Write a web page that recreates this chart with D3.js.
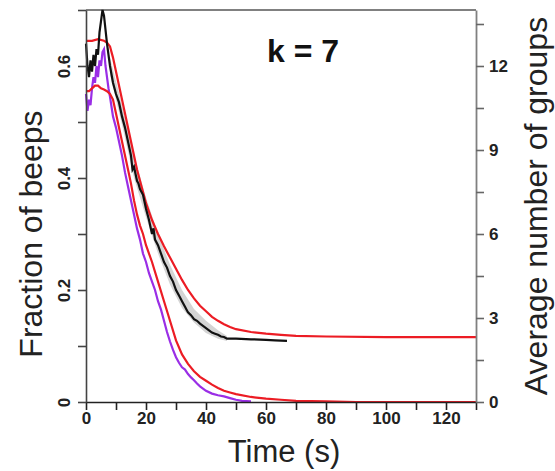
<!DOCTYPE html>
<html><head><meta charset="utf-8">
<script src="https://cdn.jsdelivr.net/npm/d3@7"></script>
<style>body{margin:0;background:#fff;} text{font-family:"Liberation Sans",Arial,Helvetica,sans-serif;}</style>
</head><body>
<svg id="c" width="555" height="471"></svg>
<script>
// ---- data ----
const xTicks = [0,10,20,30,40,50,60,70,80,90,100,110,120,130];
const xLabels = [0,20,40,60,80,100,120];
const yLeftTicks = [0,0.1,0.2,0.3,0.4,0.5,0.6,0.7];
const yLeftLabels = [0,0.2,0.4,0.6];
const yRightTicks = [0,1.5,3,4.5,6,7.5,9,10.5,12,13.5];
const yRightLabels = [0,3,6,9,12];
const title = "k = 7";

const blackT = [0,0.5,1,1.5,2,2.5,3,3.5,4,4.5,5,5.5,6,6.5,7,7.5,8,9,10,11,12,13,14,15,15.5,16,17,17.5,18,19,20,21,22,22.5,23,24,25,26,27,28,29,30,31,32,33,34,35,36,37,38,39,40,41,42,43,44,45,46,47,50,55,60,63,67];
const blackV = [0.64,0.6,0.58,0.61,0.59,0.62,0.6,0.63,0.62,0.66,0.68,0.7,0.69,0.665,0.64,0.62,0.6,0.57,0.55,0.535,0.51,0.49,0.465,0.44,0.415,0.42,0.395,0.39,0.38,0.37,0.345,0.325,0.3,0.31,0.29,0.28,0.265,0.25,0.24,0.225,0.215,0.2,0.19,0.18,0.17,0.16,0.155,0.148,0.145,0.14,0.136,0.132,0.128,0.124,0.122,0.12,0.117,0.116,0.113,0.113,0.112,0.111,0.11,0.109];

const bandT  = [8,12,16,20,24,28,32,36,40,44,47];
const bandHi = [0.615,0.53,0.44,0.365,0.3,0.245,0.2,0.166,0.145,0.128,0.118];
const bandLo = [0.585,0.495,0.4,0.33,0.265,0.21,0.168,0.142,0.123,0.113,0.109];

const purpleT = [0,0.5,1,1.5,2,2.5,3,3.5,4,4.5,5,5.5,6,6.5,7,7.5,8,9,10,11,12,13,14,15,16,17,18,19,20,21,22,23,24,25,26,27,28,29,30,31,32,33,34,35,36,37,38,39,40,42,44,46,48,50,52,55];
const purpleV = [0.55,0.52,0.54,0.53,0.56,0.58,0.57,0.6,0.58,0.61,0.6,0.625,0.63,0.6,0.58,0.56,0.545,0.51,0.49,0.465,0.44,0.41,0.385,0.36,0.335,0.31,0.29,0.265,0.25,0.23,0.215,0.2,0.18,0.165,0.145,0.125,0.108,0.093,0.08,0.07,0.062,0.058,0.05,0.044,0.039,0.033,0.028,0.024,0.02,0.015,0.012,0.01,0.007,0.004,0.002,0.001];

const redUpT = [0,2,4,6,7,8,9,10,11,12,13,14,15,16,17,18,19,20,22,24,26,28,30,32,34,36,38,40,42,44,46,48,50,55,60,65,70,80,100,130];
const redUpV = [0.645,0.645,0.648,0.645,0.642,0.635,0.615,0.59,0.565,0.54,0.515,0.49,0.465,0.44,0.415,0.395,0.375,0.355,0.325,0.3,0.278,0.258,0.238,0.218,0.2,0.185,0.172,0.162,0.152,0.145,0.139,0.134,0.13,0.125,0.122,0.12,0.118,0.117,0.116,0.116];

const redLoT = [0,1,2,3,4,5,6,7,8,9,10,11,12,13,14,15,16,17,18,19,20,22,24,26,28,30,32,34,36,38,40,42,44,46,48,50,55,60,65,70,80,90,130];
const redLoV = [0.555,0.555,0.56,0.565,0.565,0.56,0.558,0.555,0.55,0.54,0.515,0.49,0.465,0.44,0.415,0.39,0.36,0.335,0.315,0.3,0.28,0.25,0.215,0.18,0.145,0.11,0.085,0.068,0.055,0.045,0.038,0.031,0.025,0.02,0.017,0.014,0.009,0.006,0.004,0.002,0.001,0,0];

// ---- chart ----
const svg = d3.select("#c");
const L=86, R=476, T=10, B=402;
const x = d3.scaleLinear().domain([0,130]).range([L,R]);
const y = d3.scaleLinear().domain([0,0.7]).range([B,T]);
const y2 = d3.scaleLinear().domain([0,14]).range([B,T]);

const zip = (ts,vs)=>ts.map((t,i)=>[t,vs[i]]);
const line = d3.line().x(d=>x(d[0])).y(d=>y(d[1]));

// band
const band = d3.area().x(d=>x(d[0])).y0(d=>y(d[1])).y1(d=>y(d[2]));
svg.append("path").datum(bandT.map((t,i)=>[t,bandLo[i],bandHi[i]]))
  .attr("d",band).attr("fill","#d4d4d4");

// frame top
svg.append("line").attr("x1",L).attr("x2",R).attr("y1",T).attr("y2",T).attr("stroke","#808080").attr("stroke-width",2);

// curves
svg.append("path").datum(zip(redUpT,redUpV)).attr("d",line).attr("fill","none").attr("stroke","#ec1c24").attr("stroke-width",2.2);
svg.append("path").datum(zip(purpleT,purpleV)).attr("d",line).attr("fill","none").attr("stroke","#9a2ee6").attr("stroke-width",2.2);
svg.append("path").datum(zip(redLoT,redLoV)).attr("d",line).attr("fill","none").attr("stroke","#ec1c24").attr("stroke-width",2.2);
svg.append("path").datum(zip(blackT,blackV)).attr("d",line).attr("fill","none").attr("stroke","#111").attr("stroke-width",2.2);

// axes
const fontTick = '"Liberation Sans",Arial,sans-serif';
const gx = svg.append("g").attr("transform",`translate(0,${B})`)
  .call(d3.axisBottom(x).tickValues(xTicks).tickSize(8).tickSizeOuter(0)
    .tickFormat(d=>xLabels.includes(d)?String(d):""));
gx.select(".domain").attr("stroke","#222").attr("stroke-width",1.6);
gx.selectAll(".tick line").attr("stroke","#222").attr("stroke-width",1.6);
gx.selectAll("text").attr("font-size",17).attr("font-weight","bold").attr("fill","#222").attr("y",10).attr("dy","0.71em").attr("font-family",fontTick);

const gl = svg.append("g").attr("transform",`translate(${L},0)`)
  .call(d3.axisLeft(y).tickValues(yLeftTicks).tickSize(8).tickSizeOuter(0)
    .tickFormat(d=>yLeftLabels.some(v=>Math.abs(v-d)<1e-9)?(d===0?"0":d3.format(".1f")(d)):""));
gl.select(".domain").attr("stroke","#444").attr("stroke-width",1.6);
gl.selectAll(".tick line").attr("stroke","#444").attr("stroke-width",1.6);
gl.selectAll("text").attr("font-size",17).attr("font-weight","bold").attr("fill","#222").attr("font-family",fontTick)
  .attr("text-anchor","middle").attr("x",0).attr("dy",0)
  .attr("transform","translate(-16,0) rotate(-90)");

const gr = svg.append("g").attr("transform",`translate(${R},0)`)
  .call(d3.axisRight(y2).tickValues(yRightTicks).tickSize(8).tickSizeOuter(0)
    .tickFormat(d=>yRightLabels.includes(d)?String(d):""));
gr.select(".domain").attr("stroke","#808080").attr("stroke-width",1.8);
gr.selectAll(".tick line").attr("stroke","#666").attr("stroke-width",1.6);
gr.selectAll("text").attr("font-size",17).attr("font-weight","bold").attr("fill","#222").attr("font-family",fontTick).attr("x",13);

// labels
svg.append("text").attr("x",(L+R)/2+3).attr("y",462).attr("text-anchor","middle").attr("font-size",31).attr("fill","#222").text("Time (s)");
svg.append("text").attr("transform",`translate(42,${(T+B)/2+28}) rotate(-90)`).attr("text-anchor","middle").attr("font-size",32).attr("fill","#222").text("Fraction of beeps");
svg.append("text").attr("transform",`translate(547,${(T+B)/2}) rotate(-90)`).attr("text-anchor","middle").attr("font-size",32).attr("fill","#222").text("Average number of groups");
svg.append("text").attr("x",303).attr("y",62).attr("text-anchor","middle").attr("font-size",32).attr("font-weight","bold").attr("fill","#111").text(title);
</script>
</body></html>
